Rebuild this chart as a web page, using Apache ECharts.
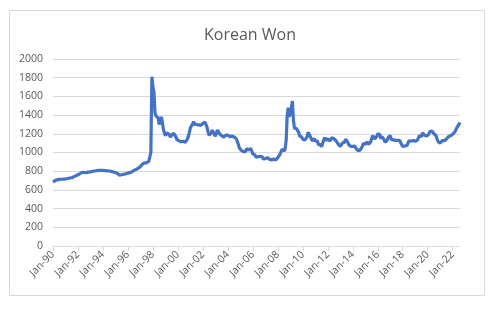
<!DOCTYPE html>
<html><head><meta charset="utf-8">
<script src="https://cdn.jsdelivr.net/npm/echarts@6/dist/echarts.min.js"></script>
<style>html,body{margin:0;padding:0;background:#fff}#c{width:500px;height:310px}</style>
</head><body><div id="c"></div>
<script>
const titleText = 'Korean Won';
const startYear = 1990;
const monthNames = ['Jan','Feb','Mar','Apr','May','Jun','Jul','Aug','Sep','Oct','Nov','Dec'];
const yTicks = [0, 200, 400, 600, 800, 1000, 1200, 1400, 1600, 1800, 2000];
// Monthly KRW per USD, Jan-1990 .. Aug-2022
const won = [
 683,690,700,705,708,710,712,713,714,715,716,716,
 718,720,722,725,727,728,730,735,740,745,752,758,
 762,768,775,782,788,790,786,784,785,788,790,790,
 792,795,798,800,802,805,806,807,808,808,808,808,
 808,807,806,805,804,803,802,800,798,795,792,789,
 786,782,775,765,758,757,762,770,768,770,772,775,
 780,782,785,790,795,800,808,815,820,825,832,840,
 850,860,875,885,890,888,890,895,905,925,1000,1810,
 1700,1640,1420,1390,1400,1370,1300,1310,1380,1330,1250,1210,
 1180,1210,1230,1200,1195,1165,1190,1200,1205,1200,1170,1140,
 1130,1125,1120,1115,1120,1120,1115,1110,1120,1140,1170,1215,
 1265,1250,1300,1330,1300,1295,1300,1290,1295,1300,1290,1290,
 1310,1320,1325,1320,1270,1220,1185,1200,1210,1240,1215,1200,
 1175,1195,1240,1225,1200,1195,1180,1180,1165,1150,1185,1195,
 1185,1165,1170,1150,1175,1160,1165,1160,1150,1140,1090,1050,
 1035,1020,1005,1010,1000,1010,1040,1025,1030,1045,1040,1015,
 985,970,975,950,945,955,950,960,955,955,930,925,
 935,935,945,930,928,928,920,935,930,915,920,935,
 945,945,980,985,1035,1030,1015,1040,1130,1400,1480,1380,
 1400,1480,1550,1340,1260,1260,1255,1240,1215,1175,1160,1165,
 1140,1160,1135,1115,1165,1215,1200,1175,1160,1125,1140,1150,
 1120,1120,1125,1085,1085,1085,1060,1075,1130,1160,1130,1150,
 1145,1125,1125,1135,1160,1165,1145,1130,1125,1105,1090,1075,
 1065,1085,1100,1120,1110,1140,1125,1115,1085,1065,1065,1055,
 1065,1070,1070,1045,1025,1020,1015,1025,1035,1060,1095,1100,
 1090,1100,1115,1085,1095,1110,1145,1180,1190,1145,1150,1170,
 1200,1215,1190,1145,1170,1165,1140,1110,1110,1130,1160,1180,
 1180,1140,1130,1135,1125,1130,1140,1130,1135,1130,1105,1085,
 1065,1080,1070,1070,1075,1095,1125,1120,1120,1130,1130,1125,
 1120,1125,1130,1140,1180,1180,1170,1210,1195,1185,1165,1175,
 1165,1195,1225,1225,1230,1210,1200,1185,1180,1145,1115,1095,
 1100,1110,1130,1120,1125,1120,1145,1160,1170,1185,1180,1185,
 1195,1200,1220,1235,1265,1280,1300,1320
];
const categories = won.map((v, i) => {
  const y = startYear + Math.floor(i / 12);
  return monthNames[i % 12] + '-' + String(y % 100).padStart(2, '0');
});
const chart = echarts.init(document.getElementById('c'));
const fontFamily = '"Open Sans", "Noto Sans", sans-serif';
chart.setOption({
  animation: false,
  backgroundColor: '#fff',
  title: {
    text: titleText, left: 'center', top: 22,
    textStyle: { fontFamily, fontSize: 16, fontWeight: 'normal', color: '#595959' }
  },
  graphic: [{
    type: 'rect', shape: { x: 9.5, y: 10.5, width: 475, height: 285 },
    style: { fill: 'none', stroke: '#d9d9d9', lineWidth: 1 }, silent: true, z: -1
  }],
  grid: { left: 53, right: 40, top: 59, bottom: 64 },
  xAxis: {
    type: 'category', data: categories, boundaryGap: false,
    axisLine: { lineStyle: { color: '#d9d9d9' } },
    axisTick: { interval: (i) => i % 24 === 0, length: 5, lineStyle: { color: '#d9d9d9' } },
    axisLabel: { interval: (i) => i % 24 === 0, rotate: 45, fontFamily, fontSize: 10.5, color: '#595959', margin: 7 },
    splitLine: { show: false }
  },
  yAxis: {
    type: 'value', min: yTicks[0], max: yTicks[yTicks.length - 1], interval: 200,
    axisLine: { show: false }, axisTick: { show: false },
    axisLabel: { fontFamily, fontSize: 10.5, color: '#595959', margin: 10, formatter: (v) => String(v) },
    splitLine: { lineStyle: { color: '#d9d9d9' } }
  },
  series: [{
    type: 'line', data: won, showSymbol: false, symbol: 'none',
    lineStyle: { color: '#4472c4', width: 3.2 }
  }]
});
</script></body></html>
